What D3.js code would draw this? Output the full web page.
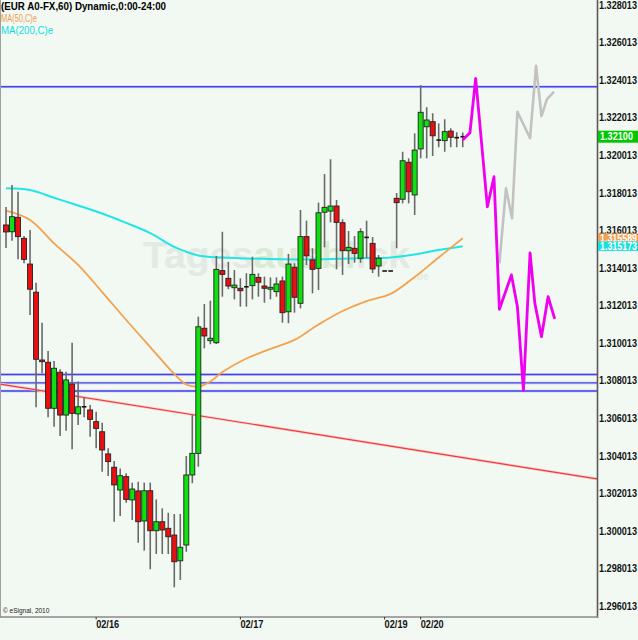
<!DOCTYPE html>
<html><head><meta charset="utf-8">
<script src="https://cdn.jsdelivr.net/npm/d3@7"></script>
<style>
html,body{margin:0;padding:0;background:#f2f8f2;}
svg{display:block;}
</style></head><body>
<svg id="c" width="638" height="640"></svg>
<script>
// ---- data (EUR A0-FX, 60 min) ----
const openP  = [1.31630,1.31594,1.31671,1.31559,1.31422,1.31272,1.30911,1.30899,1.30654,1.30846,
                1.30618,1.30783,1.30624,1.30662,1.30645,1.30583,1.30529,1.30411,1.30340,1.30219,
                1.30290,1.30166,1.30214,1.30054,1.30215,1.30002,1.30050,1.30015,1.29979,1.29842,
                1.29926,1.30299,1.30414,1.31080,1.31014,1.31003,1.31387,1.31346,1.31296,1.31293,
                1.31301,1.31307,1.31351,1.31305,1.31288,1.31275,1.31332,1.31168,1.31405,1.31213,
                1.31568,1.31444,1.31399,1.31698,1.31704,1.31731,1.31642,1.31493,1.31506,1.31453,
                1.31564,1.31532,1.31412,1.31385,1.31385,1.31772,1.31767,1.31964,1.31790,1.32035,
                1.32153,1.32180,1.32082,1.32079,1.32130,1.32095,1.32100];
const highP  = [1.31726,1.31843,1.31807,1.31571,1.31603,1.31323,1.31110,1.30959,1.30906,1.30862,
                1.30849,1.31003,1.30796,1.30711,1.30672,1.30636,1.30577,1.30441,1.30373,1.30334,
                1.30308,1.30258,1.30263,1.30258,1.30258,1.30169,1.30121,1.30098,1.30091,1.30091,
                1.30400,1.30618,1.31142,1.31209,1.31227,1.31465,1.31594,1.31434,1.31390,1.31346,
                1.31373,1.31461,1.31373,1.31355,1.31351,1.31351,1.31355,1.31476,1.31426,1.31710,
                1.31653,1.31506,1.31749,1.31901,1.31980,1.31763,1.31660,1.31598,1.31571,1.31612,
                1.31653,1.31566,1.31470,1.31385,1.31385,1.31800,1.32020,1.31985,1.32118,1.32375,
                1.32257,1.32225,1.32171,1.32193,1.32145,1.32124,1.32122];
const lowP   = [1.31508,1.31546,1.31447,1.31426,1.31151,1.30659,1.30840,1.30606,1.30556,1.30506,
                1.30535,1.30436,1.30565,1.30606,1.30503,1.30441,1.30316,1.30293,1.30050,1.30081,
                1.30151,1.30059,1.29938,1.29896,1.29797,1.29878,1.29878,1.29878,1.29701,1.29740,
                1.29890,1.30255,1.30343,1.30973,1.30995,1.30996,1.31248,1.31288,1.31234,1.31195,
                1.31195,1.31234,1.31248,1.31216,1.31234,1.31248,1.31110,1.31107,1.31163,1.31186,
                1.31417,1.31266,1.31284,1.31511,1.31644,1.31394,1.31364,1.31422,1.31429,1.31429,
                1.31453,1.31374,1.31355,1.31385,1.31385,1.31506,1.31745,1.31745,1.31683,1.31985,
                1.31985,1.31997,1.32044,1.32020,1.32044,1.32044,1.32044];
const closeP = [1.31593,1.31674,1.31568,1.31447,1.31288,1.30915,1.30902,1.30654,1.30867,1.30618,
                1.30805,1.30627,1.30662,1.30662,1.30595,1.30547,1.30432,1.30370,1.30246,1.30295,
                1.30169,1.30224,1.30050,1.30215,1.30002,1.30050,1.30006,1.29970,1.29837,1.29914,
                1.30299,1.30414,1.31088,1.31039,1.31027,1.31394,1.31367,1.31305,1.31310,1.31280,
                1.31301,1.31367,1.31325,1.31293,1.31298,1.31316,1.31163,1.31422,1.31245,1.31568,
                1.31466,1.31394,1.31695,1.31724,1.31731,1.31644,1.31493,1.31511,1.31479,1.31594,
                1.31564,1.31396,1.31453,1.31385,1.31385,1.31749,1.31972,1.31807,1.32029,1.32230,
                1.32189,1.32105,1.32082,1.32127,1.32097,1.32095,1.32100];

const ma50Idx  = [0,4,8,12,16,20,24,28,30,32,34,36,40,44,48,52,56,60,64,68,72,76];
const ma50     = [1.31706,1.31657,1.31532,1.31417,1.31273,1.31124,1.30980,1.30837,1.30781,1.30770,1.30797,
                  1.30847,1.30919,1.30970,1.31018,1.31100,1.31172,1.31225,1.31263,1.31353,1.31457,1.31559];
const ma200Idx = [0,4,8,12,16,20,24,28,32,36,44,52,60,64,68,72,76];
const ma200    = [1.31825,1.31816,1.31775,1.31734,1.31691,1.31641,1.31587,1.31513,1.31468,1.31457,
                  1.31449,1.31447,1.31454,1.31457,1.31473,1.31497,1.31517];

const fcMagentaIdx = [76,77.2,78.15,80.1,81.2,82.1,84.1,85.1,86.1,87.2,88.0,89.1,90.2,91.3];
const fcMagenta    = [1.32082,1.32121,1.32411,1.31727,1.31887,1.31181,1.31364,1.31195,1.30748,1.31482,
                      1.31213,1.31035,1.31248,1.31130];
const fcGrayIdx = [82.1,83.2,84.2,85.1,87.2,88.2,89.1,90.0,91.2];
const fcGray    = [1.31426,1.31825,1.31666,1.32233,1.32092,1.32477,1.32210,1.32299,1.32340];

const hLevels  = [1.32366,1.30834,1.30789,1.30746];
const trendIdx = [-1,98.34];
const trendVal = [1.30783,1.30278];

const yTicks = d3.range(17).map(k => 1.296013 + 0.002*k);
const dateTickIdx = [15,39,63,69];
const dateLabels  = ["02/16","02/17","02/19","02/20"];
const lastPrice = 1.32100, ma50Last = 1.315589, ma200Last = 1.315173;
const legendTitle = "(EUR A0-FX,60) Dynamic,0:00-24:00";

// ---- layout ----
const W = 638, H = 640, plotR = 597, plotB = 617;
const x = d3.scaleLinear().domain([-1, 98.34]).range([0, plotR]);
const y = d3.scaleLinear().domain([1.296013, 1.328013]).range([606, 5]);
const svg = d3.select("#c");
const narrow = "'Liberation Sans Narrow','Arial Narrow','Liberation Sans',Arial,sans-serif";

svg.append("rect").attr("width",W).attr("height",H).attr("fill","#f2f8f2");
svg.append("defs").append("clipPath").attr("id","clip")
  .append("rect").attr("x",0).attr("y",0).attr("width",plotR).attr("height",plotB);
const g = svg.append("g").attr("clip-path","url(#clip)");

// watermark
const wm = g.append("text").attr("x",143).attr("y",268)
  .attr("font-family","'Liberation Sans',Arial,sans-serif").attr("font-weight","bold")
  .attr("font-size",37).attr("textLength",267).attr("lengthAdjust","spacingAndGlyphs");
wm.append("tspan").attr("fill","#e3eae3").text("Tages");
wm.append("tspan").attr("fill","#dbead5").text("ausbl");
wm.append("tspan").attr("fill","#e3eae3").text("ick");
g.append("text").attr("x",414).attr("y",280).attr("font-family","Arial,sans-serif")
  .attr("font-weight","bold").attr("font-size",10).attr("fill","#e3eae3").text(".de");

// horizontal levels
hLevels.forEach(v => {
  g.append("line").attr("x1",0).attr("x2",plotR).attr("y1",y(v)).attr("y2",y(v))
    .attr("stroke","#d8d8ee").attr("stroke-width",3);
  g.append("line").attr("x1",0).attr("x2",plotR).attr("y1",y(v)).attr("y2",y(v))
    .attr("stroke","#4242ee").attr("stroke-width",1.3);
});
// red trendline
g.append("line").attr("x1",x(trendIdx[0])).attr("x2",x(trendIdx[1]))
  .attr("y1",y(trendVal[0])).attr("y2",y(trendVal[1]))
  .attr("stroke","#f8cccc").attr("stroke-width",2.6);
g.append("line").attr("x1",x(trendIdx[0])).attr("x2",x(trendIdx[1]))
  .attr("y1",y(trendVal[0])).attr("y2",y(trendVal[1]))
  .attr("stroke","#f03a3a").attr("stroke-width",1.2);

// moving averages
const maLine = d3.line().curve(d3.curveCatmullRom);
g.append("path").attr("d", maLine(ma200Idx.map((i,k)=>[x(i),y(ma200[k])])))
  .attr("fill","none").attr("stroke","#22e6e6").attr("stroke-width",2);
g.append("path").attr("d", maLine(ma50Idx.map((i,k)=>[x(i),y(ma50[k])])))
  .attr("fill","none").attr("stroke","#f4a24c").attr("stroke-width",1.8);

// candles
const cg = g.append("g");
openP.forEach((o,i) => {
  const c = closeP[i], hi = highP[i], lo = lowP[i], cx = x(i);
  if (hi !== lo) {
    cg.append("line").attr("x1",cx).attr("x2",cx).attr("y1",y(hi)).attr("y2",y(lo))
      .attr("stroke","#6a6a6a").attr("stroke-width",1.6);
  }
  if (Math.abs(c - o) < 0.000005) {
    cg.append("line").attr("x1",cx-2.3).attr("x2",cx+2.3).attr("y1",y(c)).attr("y2",y(c))
      .attr("stroke","#111").attr("stroke-width",1.6);
  } else {
    const top = y(Math.max(o,c)), bot = y(Math.min(o,c));
    cg.append("rect").attr("x",cx-2.5).attr("y",top).attr("width",5)
      .attr("height",Math.max(bot-top,1.5))
      .attr("fill", c > o ? "#10e010" : "#e81010")
      .attr("stroke","#222").attr("stroke-width",0.9);
  }
});

// forecast paths
const fl = d3.line();
g.append("path").attr("d", fl(fcGrayIdx.map((i,k)=>[x(i),y(fcGray[k])])))
  .attr("fill","none").attr("stroke","#c2c2c2").attr("stroke-width",2.6)
  .attr("stroke-linejoin","round");
g.append("path").attr("d", fl(fcMagentaIdx.map((i,k)=>[x(i),y(fcMagenta[k])])))
  .attr("fill","none").attr("stroke","#f000f0").attr("stroke-width",2.8)
  .attr("stroke-linejoin","round");

// borders
svg.append("line").attr("x1",0.5).attr("x2",0.5).attr("y1",0).attr("y2",plotB)
  .attr("stroke","#a0a0a0").attr("stroke-width",1);
svg.append("line").attr("x1",plotR+0.5).attr("x2",plotR+0.5).attr("y1",0).attr("y2",plotB+1)
  .attr("stroke","#5a5a5a").attr("stroke-width",1.6);
svg.append("line").attr("x1",0).attr("x2",plotR+1).attr("y1",plotB).attr("y2",plotB)
  .attr("stroke","#8a8a8a").attr("stroke-width",1.6);

// y axis labels
svg.append("g").selectAll("text").data(yTicks).join("text")
  .attr("x",599).attr("y",d=>y(d)).attr("dy","0.36em")
  .attr("font-family",narrow).attr("font-weight","bold").attr("font-size",10.5)
  .attr("fill","#111").attr("textLength",38).attr("lengthAdjust","spacingAndGlyphs")
  .text(d=>d.toFixed(6));

// price boxes
function box(v, h, fill, label, tl) {
  const yc = y(v);
  svg.append("rect").attr("x",598).attr("y",yc-h/2).attr("width",40).attr("height",h).attr("fill",fill);
  svg.append("text").attr("x",600).attr("y",yc).attr("dy","0.36em")
    .attr("font-family",narrow).attr("font-weight","bold").attr("font-size",10.5)
    .attr("fill","#fff").attr("textLength",tl).attr("lengthAdjust","spacingAndGlyphs").text(label);
}
box(lastPrice, 12, "#00c800", lastPrice.toFixed(5), 33);
box(ma50Last, 10, "#f0a050", ma50Last.toFixed(6), 37);
box(ma200Last, 9.5, "#18e0e0", ma200Last.toFixed(6), 37);

// date axis
dateTickIdx.forEach((i,k) => {
  svg.append("line").attr("x1",x(i)).attr("x2",x(i)).attr("y1",plotB).attr("y2",plotB+2.5)
    .attr("stroke","#333").attr("stroke-width",1);
  svg.append("text").attr("x",x(i)).attr("y",628)
    .attr("font-family",narrow).attr("font-weight","bold").attr("font-size",11)
    .attr("fill","#111").attr("textLength",23).attr("lengthAdjust","spacingAndGlyphs")
    .text(dateLabels[k]);
});

// legend
svg.append("text").attr("x",1).attr("y",10).attr("font-family",narrow).attr("font-weight","bold")
  .attr("font-size",11).attr("fill","#000").attr("textLength",165).attr("lengthAdjust","spacingAndGlyphs")
  .text(legendTitle);
svg.append("text").attr("x",1).attr("y",22).attr("font-family",narrow)
  .attr("font-size",11).attr("fill","#f0a050").attr("textLength",36).attr("lengthAdjust","spacingAndGlyphs")
  .text("MA(50,C)e");
svg.append("text").attr("x",1).attr("y",34).attr("font-family",narrow)
  .attr("font-size",11).attr("fill","#10dede").attr("textLength",52).attr("lengthAdjust","spacingAndGlyphs")
  .text("MA(200,C)e");

// copyright
svg.append("text").attr("x",3).attr("y",613).attr("font-family","Arial,sans-serif")
  .attr("font-size",6.5).attr("fill","#222").text("© eSignal, 2010");
</script>
</body></html>
